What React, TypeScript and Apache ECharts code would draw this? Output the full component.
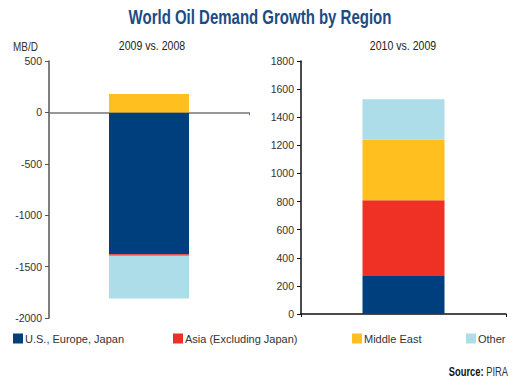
import React, { useEffect, useRef } from "react";
import * as echarts from "echarts";

const regions = ["U.S., Europe, Japan", "Asia (Excluding Japan)", "Middle East", "Other"];
const colors = ["#003f7e", "#ee3124", "#ffc01f", "#acdde9"];
const values2009 = [-1380, -15, 180, -415];
const values2010 = [270, 540, 430, 287];
const cat2009 = ["2009 vs. 2008"];
const cat2010 = ["2010 vs. 2009"];
const ticksLeft = { min: -2000, max: 500, interval: 500 };
const ticksRight = { min: 0, max: 1800, interval: 200 };

const FONT = "'Liberation Sans', Arial, sans-serif";

export default function App() {
  const ref = useRef<HTMLDivElement>(null);
  useEffect(() => {
    if (!ref.current) return;
    const chart = echarts.init(ref.current, undefined, { renderer: "svg" });
    const legendLefts = [13, 173, 352, 466];
    const series: any[] = [];
    regions.forEach((name, i) => {
      series.push({
        name,
        type: "bar",
        xAxisIndex: 0,
        yAxisIndex: 0,
        stack: "left",
        barWidth: 80,
        data: [values2009[i]],
        itemStyle: { color: colors[i] },
      });
    });
    regions.forEach((name, i) => {
      series.push({
        name,
        type: "bar",
        xAxisIndex: 1,
        yAxisIndex: 1,
        stack: "right",
        barWidth: 82,
        data: [values2010[i]],
        itemStyle: { color: colors[i] },
      });
    });
    const yLabel = {
      color: "#333",
      fontSize: 10.5,
      fontFamily: FONT,
      margin: 7,
      formatter: (v: number) => String(v),
    };
    chart.setOption({
      animation: false,
      backgroundColor: "#fff",
      grid: [
        { left: 49, top: 61, width: 200, height: 257 },
        { left: 301, top: 61, width: 205, height: 253 },
      ],
      xAxis: [
        {
          type: "category",
          gridIndex: 0,
          data: cat2009,
          axisLine: { onZero: true, lineStyle: { color: "#777", width: 1.5 } },
          axisTick: { show: true, length: 3, lineStyle: { color: "#777" } },
          axisLabel: { show: false },
        },
        {
          type: "category",
          gridIndex: 1,
          data: cat2010,
          axisLine: { lineStyle: { color: "#111", width: 1.5 } },
          axisTick: { show: true, length: 3, lineStyle: { color: "#111" } },
          axisLabel: { show: false },
        },
      ],
      yAxis: [
        {
          type: "value",
          gridIndex: 0,
          ...ticksLeft,
          splitLine: { show: false },
          axisLine: { show: true, lineStyle: { color: "#555", width: 1.5 } },
          axisTick: { show: true, length: 4, lineStyle: { color: "#555" } },
          axisLabel: yLabel,
        },
        {
          type: "value",
          gridIndex: 1,
          ...ticksRight,
          splitLine: { show: false },
          axisLine: { show: true, lineStyle: { color: "#111", width: 1.5 } },
          axisTick: { show: true, length: 4, lineStyle: { color: "#111" } },
          axisLabel: yLabel,
        },
      ],
      legend: regions.map((name, i) => ({
        data: [name],
        left: legendLefts[i],
        top: 333,
        itemWidth: 10,
        itemHeight: 10,
        icon: "rect",
        padding: 0,
        textStyle: { color: "#333", fontSize: 11, fontFamily: FONT, padding: [0, 0, 0, -3] },
      })),
      graphic: [
        {
          type: "text",
          x: 260,
          y: 7,
          scaleX: 0.75,
          style: {
            text: "World Oil Demand Growth by Region",
            x: 0,
            y: 0,
            align: "center",
            fill: "#1b4c85",
            fontSize: 20,
            fontWeight: "bold",
            fontFamily: FONT,
          },
        },
        {
          type: "text",
          x: 13,
          y: 41,
          scaleX: 0.83,
          style: { text: "MB/D", x: 0, y: 0, fill: "#333", fontSize: 12, fontFamily: FONT },
        },
        {
          type: "text",
          x: 152,
          y: 40,
          scaleX: 0.88,
          style: { text: cat2009[0], x: 0, y: 0, fill: "#222", fontSize: 12, fontFamily: FONT, align: "center" },
        },
        {
          type: "text",
          x: 403,
          y: 40,
          scaleX: 0.88,
          style: { text: cat2010[0], x: 0, y: 0, fill: "#222", fontSize: 12, fontFamily: FONT, align: "center" },
        },
        {
          type: "text",
          x: 508,
          y: 366,
          scaleX: 0.78,
          style: {
            x: 0,
            y: 0,
            align: "right",
            text: "{b|Source:} {n|PIRA}",
            rich: {
              b: { fontWeight: "bold", fontSize: 12, fill: "#111", fontFamily: FONT },
              n: { fontSize: 12, fill: "#333", fontFamily: FONT },
            },
          },
        },
      ],
      series,
    });
    return () => chart.dispose();
  }, []);
  return (
    <div
      ref={ref}
      style={{ position: "fixed", left: 0, top: 0, width: 520, height: 382 }}
    />
  );
}
